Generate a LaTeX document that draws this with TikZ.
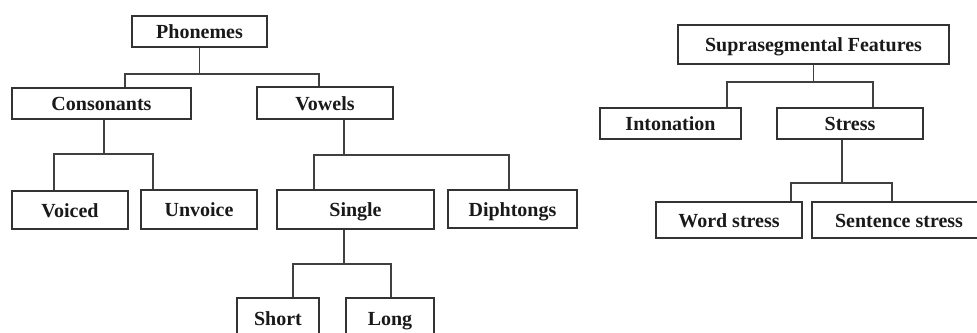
\documentclass[tikz,border=0pt]{standalone}
\usepackage{fontspec}
\setmainfont{Liberation Serif}
\begin{document}
\begin{tikzpicture}[x = 1pt, y = -1pt,
		box/.style = {draw = black!80, line width = 1.5pt, inner sep = 0pt, text height = 16.5pt, text depth = 2pt, font = \fontsize{20}{24}\selectfont\bfseries, text = black!90},
		link/.style = {draw = black!75, line width = 1.5pt}]
					\path[use as bounding box, clip] (0,0) rectangle (977,332);

					\node (phon)[box, minimum width = 135pt, minimum height = 31pt] at(199.5, 31.5)  {Phonemes};
					\node (cons)[box, minimum width = 179pt, minimum height = 31pt] at(101.5, 103.5)  {Consonants};
					\node (vow)[box, minimum width = 136pt, minimum height = 32pt] at(325, 103)  {Vowels};
					\node (voic)[box, minimum width = 116pt, minimum height = 38pt] at(70, 210)  {Voiced};
					\node (unv)[box, minimum width = 116pt, minimum height = 39pt] at(199, 209.5)  {Unvoice};
					\node (sing)[box, minimum width = 157pt, minimum height = 39pt] at(355.5, 209.5)  {Single};
					\node (diph)[box, minimum width = 129pt, minimum height = 38pt] at(512.5, 209)  {Diphtongs};
					\node (short)[box, minimum width = 82pt, minimum height = 40pt] at(278, 318)  {Short};
					\node (long)[box, minimum width = 88pt, minimum height = 40pt] at(390, 318)  {Long};

					\node (supra)[box, minimum width = 271pt, minimum height = 39pt] at(813.5, 44.5)  {Suprasegmental Features};
					\node (inton)[box, minimum width = 141pt, minimum height = 31pt] at(670.5, 123.5)  {Intonation};
					\node (stress)[box, minimum width = 146pt, minimum height = 31pt] at(850, 123.5)  {Stress};
					\node (word)[box, minimum width = 146pt, minimum height = 36pt] at(729, 220)  {Word stress};
					\node (sent)[box, minimum width = 174pt, minimum height = 36pt] at(899, 220)  {Sentence stress};

					\draw [link](phon.south)--++(0,26) coordinate (j1);
					\draw [link]([xshift = 23.5pt]cons.north)|-(j1)-|([xshift = -6pt]vow.north);
					\draw [link]([xshift = 2.5pt]cons.south)--++(0,34) coordinate (j2);
					\draw [link]([xshift = -16pt]voic.north)|-(j2)-|([xshift = -46pt]unv.north);
					\draw [link]([xshift = 19pt]vow.south)--++(0,35) coordinate (j3);
					\draw [link]([xshift = -41.5pt]sing.north)|-(j3)-|([xshift = -3.5pt]diph.north);
					\draw [link]([xshift = -11.5pt]sing.south)--++(0,34) coordinate (j4);
					\draw [link]([xshift = 15pt]short.north)|-(j4)-|([xshift = 1pt]long.north);

					\draw [link](supra.south)--++(0,17) coordinate (j5);
					\draw [link]([xshift = 56.5pt]inton.north)|-(j5)-|([xshift = 23pt]stress.north);
					\draw [link]([xshift = -8pt]stress.south)--++(0,43) coordinate (j6);
					\draw [link]([xshift = 62pt]word.north)|-(j6)-|([xshift = -7pt]sent.north);
				\end{tikzpicture}
\end{document}
